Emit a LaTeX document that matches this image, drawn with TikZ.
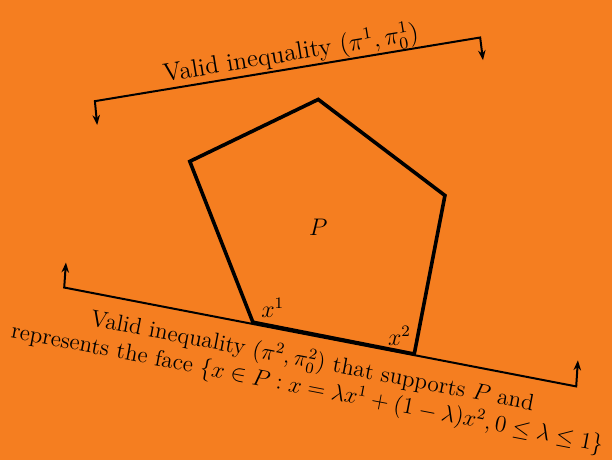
\documentclass[tikz,border=0pt]{standalone}
\usepackage{amssymb}
\usepackage{amsmath}
\usepackage{tikz}
\usetikzlibrary{arrows.meta}
\definecolor{ccOrange}{HTML}{F57E20}

\begin{document}
\begin{tikzpicture}
    % background
    \fill[ccOrange] (0,0) rectangle (10.77,8.1);
    \useasboundingbox (0,0) rectangle (10.77,8.1);
    % polytope P
    \coordinate (top) at (5.60,6.35);
    \coordinate (right) at (7.83,4.66);
    \coordinate (x2) at (7.29,1.87);
    \coordinate (x1) at (4.45,2.43);
    \coordinate (left) at (3.34,5.26);
    \draw[line width=1.8pt] (top) -- (right) -- (x2) -- (x1) -- (left) -- cycle;
    \node[font=\large] (lblP) at (5.60,4.10) {$P$};
    \node[font=\large] (lblx1) at (4.80,2.68) {$x^1$};
    \node[font=\large] (lblx2) at (7.03,2.19) {$x^2$};
    % valid inequality (pi^1, pi^1_0)
    \coordinate (u1) at (1.67,6.32);
    \coordinate (u2) at (8.45,7.44);
    \coordinate (u1tip) at (1.71,5.90);
    \coordinate (u2tip) at (8.50,7.04);
    \draw[line width=1pt, {Stealth[length=5pt]}-{Stealth[length=5pt]}] (u1tip) -- (u1) -- (u2) -- (u2tip);
    \node[font=\large, scale=1.05, rotate=9.4] (ineq1) at (5.12,7.15) {Valid inequality $(\pi^1,\pi^1_0)$};
    % supporting inequality (pi^2, pi^2_0)
    \coordinate (l1) at (1.13,3.04);
    \coordinate (l2) at (10.14,1.30);
    \coordinate (l1tip) at (1.16,3.48);
    \coordinate (l2tip) at (10.17,1.76);
    \draw[line width=1pt, {Stealth[length=5pt]}-{Stealth[length=5pt]}] (l1tip) -- (l1) -- (l2) -- (l2tip);
    \node[font=\large, scale=0.97, rotate=-10.9, align=center] (ineq2) at (5.45,1.50)
        {Valid inequality $(\pi^2,\pi^2_0)$ that supports $P$ and\\
         represents the face $\{x\in P : x=\lambda x^1+(1-\lambda)x^2, 0\leq\lambda\leq 1\}$};
\end{tikzpicture}
\end{document}
